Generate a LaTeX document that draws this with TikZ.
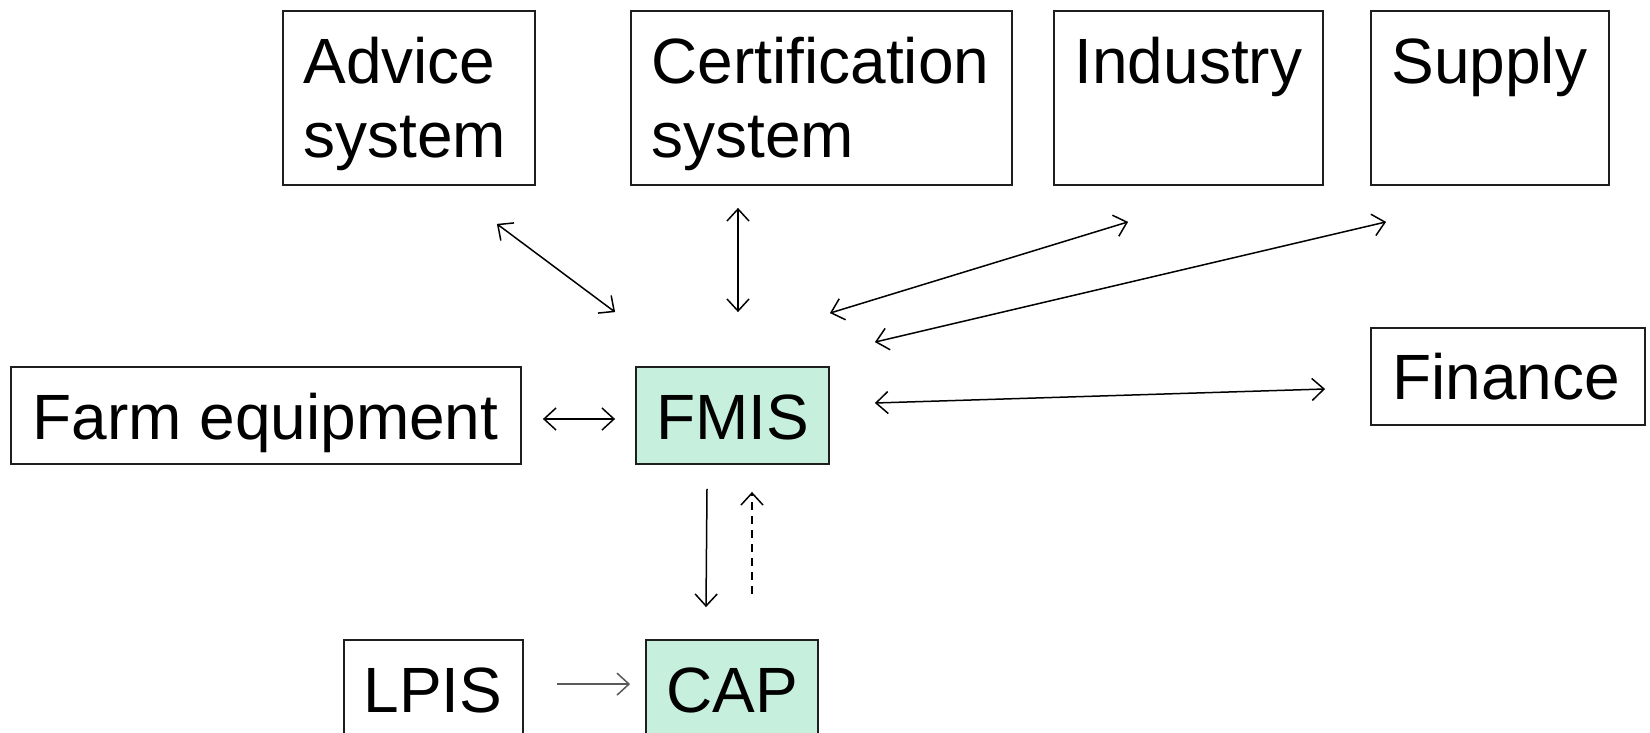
\documentclass[tikz,border=0pt]{standalone}
\usepackage{fontspec}
\setmainfont{Liberation Sans}
\usetikzlibrary{arrows.meta,calc}
\definecolor{mint}{RGB}{198,239,222}
\definecolor{edge}{RGB}{30,30,30}
\begin{document}
\begin{tikzpicture}[x=0.5pt,y=-0.5pt,
  box/.style={draw=edge, line width=0.9pt, inner sep=0pt, rectangle},
  hl/.style={box, fill=mint},
  lbl/.style={inner sep=0pt, anchor=base west, align=left, font=\fontsize{32}{37}\selectfont},
  tip/.style={line width=0.75pt, draw=black},
  both/.style={tip, {Straight Barb[length=6pt,width=11pt]}-{Straight Barb[length=6pt,width=11pt]}},
  one/.style={tip, -{Straight Barb[length=6pt,width=11pt]}}
]
\useasboundingbox (0,0) rectangle (1650,733);
% boxes
\node[box, minimum width=126pt, minimum height=87pt] (adv) at (409,98) {};
\node[box, minimum width=190.5pt, minimum height=87pt] (cert) at (821.5,98) {};
\node[box, minimum width=134.5pt, minimum height=87pt] (ind) at (1188.5,98) {};
\node[box, minimum width=119pt, minimum height=87pt] (sup) at (1490,98) {};
\node[box, minimum width=255pt, minimum height=48.5pt] (farm) at (266,415.5) {};
\node[hl, minimum width=96.5pt, minimum height=48.5pt] (fmis) at (732.5,415.5) {};
\node[box, minimum width=137pt, minimum height=48.5pt] (fin) at (1508,376.5) {};
\node[box, minimum width=89.5pt, minimum height=120pt] (lpis) at (433.5,760) {};
\node[hl, minimum width=86pt, minimum height=120pt] (cap) at (732,760) {};
% labels
\node[lbl] (advT) at ($(adv.north west)+(21,147)$) {Advice\\system};
\node[lbl] (certT) at ($(cert.north west)+(21,147)$) {Certification\\system};
\node[lbl] (indT) at ($(ind.north west)+(21,73)$) {Industry};
\node[lbl] (supT) at ($(sup.north west)+(21,73)$) {Supply};
\node[lbl] (farmT) at ($(farm.north west)+(22,73)$) {Farm equipment};
\node[lbl] (fmisT) at ($(fmis.north west)+(21,73)$) {FMIS};
\node[lbl] (finT) at ($(fin.north west)+(22,72)$) {Finance};
\node[lbl] (lpisT) at ($(lpis.north west)+(20,73)$) {LPIS};
\node[lbl] (capT) at ($(cap.north west)+(21,73)$) {CAP};
% connectors
\draw[both] ($(adv.south east)+(-39,38)$) -- ($(fmis.north west)+(-20,-54)$);
\draw[both] ($(cert.south)+(-83.5,22)$) -- ($(fmis.north)+(5.5,-54)$);
\draw[both] ($(ind.south west)+(75,36)$) -- ($(fmis.north east)+(0,-53)$);
\draw[both] ($(sup.south west)+(16,36)$) -- ($(fmis.north east)+(45,-24)$);
\draw[both] ($(fin.west)+(-45,12.5)$) -- ($(fmis.east)+(45,-12.5)$);
\draw[both] ($(farm.east)+(21,3.5)$) -- ($(fmis.west)+(-20,3.5)$);
\draw[one] ($(fmis.south)+(-25.5,24)$) -- ($(cap.north)+(-26,-32)$);
\draw[one, dash pattern=on 4pt off 3pt] ($(cap.north)+(20,-45)$) -- ($(fmis.south)+(19.5,27)$);
\draw[one, draw=black!65] ($(lpis.north east)+(33,45)$) -- ($(cap.north west)+(-15,45)$);
\end{tikzpicture}
\end{document}
